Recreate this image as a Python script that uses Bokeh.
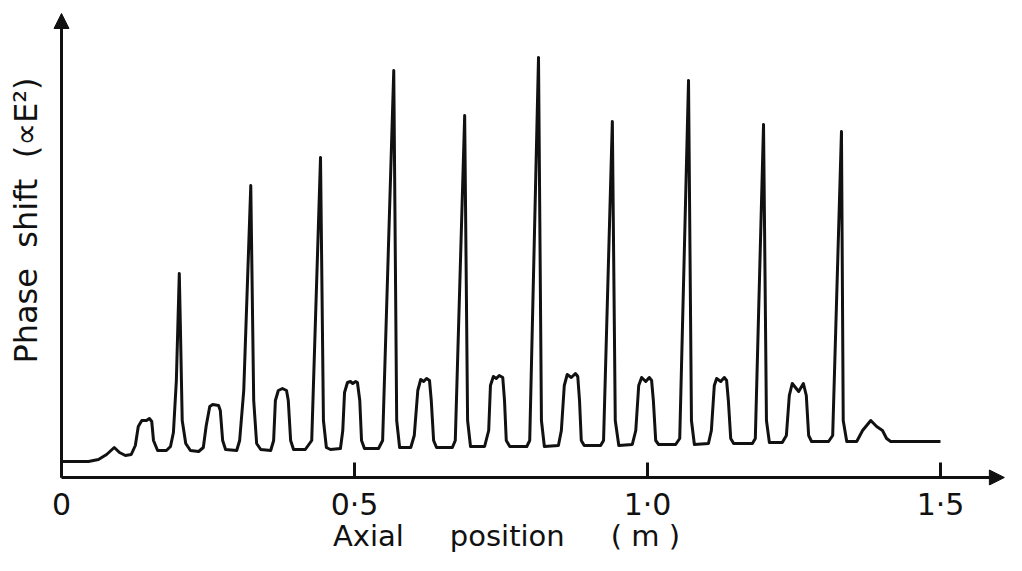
import math
from bokeh.plotting import figure
from bokeh.models import Range1d, FixedTicker, Arrow, NormalHead, Label
from bokeh.embed import file_html
from bokeh.resources import INLINE

# Trace: axial position (m) and phase shift (arbitrary units)
position_m = [
    0.002, 0.046, 0.063, 0.077, 0.090, 0.099, 0.109, 0.119, 0.126, 0.131,
    0.137, 0.145, 0.150, 0.154, 0.157, 0.164, 0.179, 0.186, 0.191, 0.196,
    0.201, 0.203, 0.206, 0.212, 0.220, 0.234, 0.242, 0.247, 0.253, 0.258,
    0.268, 0.271, 0.275, 0.280, 0.299, 0.304, 0.311, 0.323, 0.328, 0.333,
    0.340, 0.357, 0.362, 0.365, 0.370, 0.377, 0.384, 0.387, 0.391, 0.396,
    0.416, 0.427, 0.442, 0.447, 0.452, 0.459, 0.476, 0.480, 0.483, 0.488,
    0.493, 0.497, 0.502, 0.505, 0.509, 0.512, 0.517, 0.541, 0.548, 0.567,
    0.572, 0.577, 0.596, 0.602, 0.608, 0.613, 0.618, 0.623, 0.628, 0.631,
    0.635, 0.640, 0.667, 0.672, 0.688, 0.693, 0.698, 0.722, 0.729, 0.732,
    0.737, 0.742, 0.747, 0.753, 0.756, 0.759, 0.765, 0.794, 0.799, 0.814,
    0.819, 0.824, 0.848, 0.853, 0.858, 0.863, 0.870, 0.877, 0.881, 0.884,
    0.887, 0.892, 0.920, 0.925, 0.940, 0.945, 0.951, 0.974, 0.980, 0.985,
    0.990, 0.997, 1.003, 1.007, 1.010, 1.014, 1.019, 1.048, 1.055, 1.070,
    1.075, 1.080, 1.104, 1.109, 1.114, 1.118, 1.125, 1.131, 1.135, 1.138,
    1.142, 1.147, 1.179, 1.184, 1.198, 1.203, 1.208, 1.230, 1.237, 1.242,
    1.247, 1.258, 1.266, 1.271, 1.275, 1.280, 1.309, 1.316, 1.331, 1.334,
    1.340, 1.357, 1.367, 1.381, 1.391, 1.401, 1.408, 1.415, 1.500,
]
phase_shift = [
    16, 16, 18, 23, 30, 25, 22, 23, 32, 51,
    57, 57, 59, 56, 37, 27, 27, 31, 45, 97,
    204, 147, 57, 34, 27, 26, 30, 52, 71, 73,
    72, 67, 37, 28, 27, 37, 87, 292, 77, 34,
    28, 27, 37, 77, 87, 89, 87, 77, 37, 28,
    28, 37, 320, 57, 30, 28, 29, 47, 85, 95,
    96, 94, 96, 95, 77, 37, 29, 29, 37, 407,
    57, 30, 30, 42, 87, 98, 96, 99, 97, 77,
    37, 30, 30, 37, 362, 57, 31, 31, 47, 92,
    101, 99, 102, 100, 77, 37, 31, 31, 37, 420,
    57, 31, 32, 47, 92, 103, 100, 104, 101, 77,
    37, 32, 32, 37, 356, 57, 32, 33, 47, 92,
    100, 96, 100, 97, 77, 37, 33, 33, 39, 397,
    57, 33, 34, 47, 92, 99, 96, 100, 97, 77,
    39, 34, 34, 39, 353, 57, 35, 35, 42, 82,
    94, 86, 94, 82, 42, 36, 36, 42, 346, 57,
    36, 36, 47, 57, 51, 47, 39, 36, 36,
]

x_ticks = [0, 0.5, 1.0, 1.5]
x_tick_labels = ["0", "0·5", "1·0", "1·5"]
NB = "\u00a0"
x_title = "Axial" + NB * 5 + "position" + NB * 5 + "(" + NB + "m" + NB + ")"
y_title = "Phase" + NB * 2 + "shift" + NB * 2 + "(∝E²)"

FONT = "DejaVu Sans"
INK = "#111111"

p = figure(width=1006, height=555, output_backend="svg", toolbar_location=None,
           x_range=Range1d(-0.09386, 1.61263), y_range=Range1d(-8, 477),
           y_axis_location=None,
           min_border_left=6, min_border_right=0, min_border_top=0,
           min_border_bottom=70)
p.outline_line_color = None
p.xgrid.visible = False
p.ygrid.visible = False
p.background_fill_color = "white"
p.border_fill_color = "white"

# curve
p.line(position_m, phase_shift, line_color=INK, line_width=3, line_join="round")

# axis lines with arrow heads (x axis at y=0, y axis at x=0)
p.add_layout(Arrow(x_start=0, y_start=0, x_end=1.609, y_end=0,
                   line_width=3, line_color=INK,
                   end=NormalHead(size=15, fill_color=INK, line_color=INK)))
p.add_layout(Arrow(x_start=0, y_start=0, x_end=0, y_end=464,
                   line_width=3, line_color=INK,
                   end=NormalHead(size=15, fill_color=INK, line_color=INK)))

# tick marks pointing up from the x axis
tick_len = [15] * len(x_ticks)
p.segment(x0=x_ticks, y0=[0] * len(x_ticks), x1=x_ticks, y1=tick_len,
          line_color=INK, line_width=3)

xa = p.xaxis[0]
xa.ticker = FixedTicker(ticks=x_ticks)
xa.major_label_overrides = {t: s for t, s in zip(x_ticks, x_tick_labels)}
xa.major_tick_in = 0
xa.major_tick_out = 0
xa.major_tick_line_color = None
xa.minor_tick_line_color = None
xa.axis_line_color = None
xa.major_label_text_font = FONT
xa.major_label_text_font_size = "30px"
xa.major_label_text_color = INK
xa.major_label_standoff = 1
xa.axis_label = x_title
xa.axis_label_text_font = FONT
xa.axis_label_text_font_size = "29px"
xa.axis_label_text_font_style = "normal"
xa.axis_label_text_color = INK
xa.axis_label_standoff = -6

p.add_layout(Label(x=-0.061, y=257, text=y_title,
                   angle=math.pi / 2, text_align="center", text_baseline="alphabetic",
                   text_font=FONT, text_font_size="32px", text_color=INK))

open("out.html", "w").write(file_html(p, INLINE))
